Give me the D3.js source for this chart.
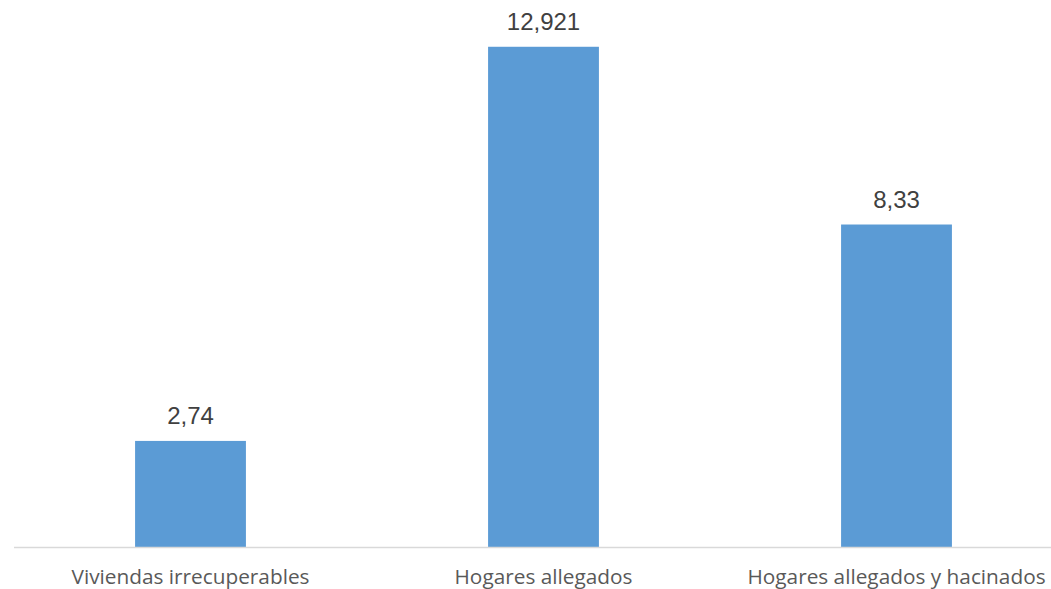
<!DOCTYPE html>
<html><head><meta charset="utf-8">
<script src="https://cdn.jsdelivr.net/npm/d3@7"></script>
<style>body{margin:0;background:#fff}</style>
</head><body>
<svg id="c" width="1051" height="589"></svg>
<script>
const categories = ["Viviendas irrecuperables", "Hogares allegados", "Hogares allegados y hacinados"];
const values = [2.74, 12.921, 8.33];
const valueLabels = ["2,74", "12,921", "8,33"];

const svg = d3.select("#c");
const x = d3.scaleBand().domain(categories).range([14, 1073]).paddingInner(0.686).paddingOuter(0.343);
const y = d3.scaleLinear().domain([0, 14]).range([547, 5]);

svg.selectAll("rect.bar").data(values).join("rect")
  .attr("x", (d, i) => x(categories[i]))
  .attr("width", x.bandwidth())
  .attr("y", d => y(d))
  .attr("height", d => y(0) - y(d))
  .attr("fill", "#5B9BD5");

svg.append("line").attr("x1", 14).attr("x2", 1051).attr("y1", y(0) + 0.5).attr("y2", y(0) + 0.5)
  .attr("stroke", "#D9D9D9").attr("stroke-width", 1.3);

svg.selectAll("text.val").data(values).join("text")
  .attr("x", (d, i) => x(categories[i]) + x.bandwidth() / 2)
  .attr("y", d => y(d) - 17)
  .attr("text-anchor", "middle")
  .attr("font-family", "Liberation Sans, Arial, sans-serif")
  .attr("font-size", 24)
  .attr("fill", "#404040")
  .text((d, i) => valueLabels[i]);

svg.selectAll("text.cat").data(categories).join("text")
  .attr("x", d => x(d) + x.bandwidth() / 2)
  .attr("y", 584)
  .attr("text-anchor", "middle")
  .attr("font-family", "Open Sans, sans-serif")
  .attr("font-size", 20.8)
  .attr("fill", "#595959")
  .text(d => d);
</script>
</body></html>
